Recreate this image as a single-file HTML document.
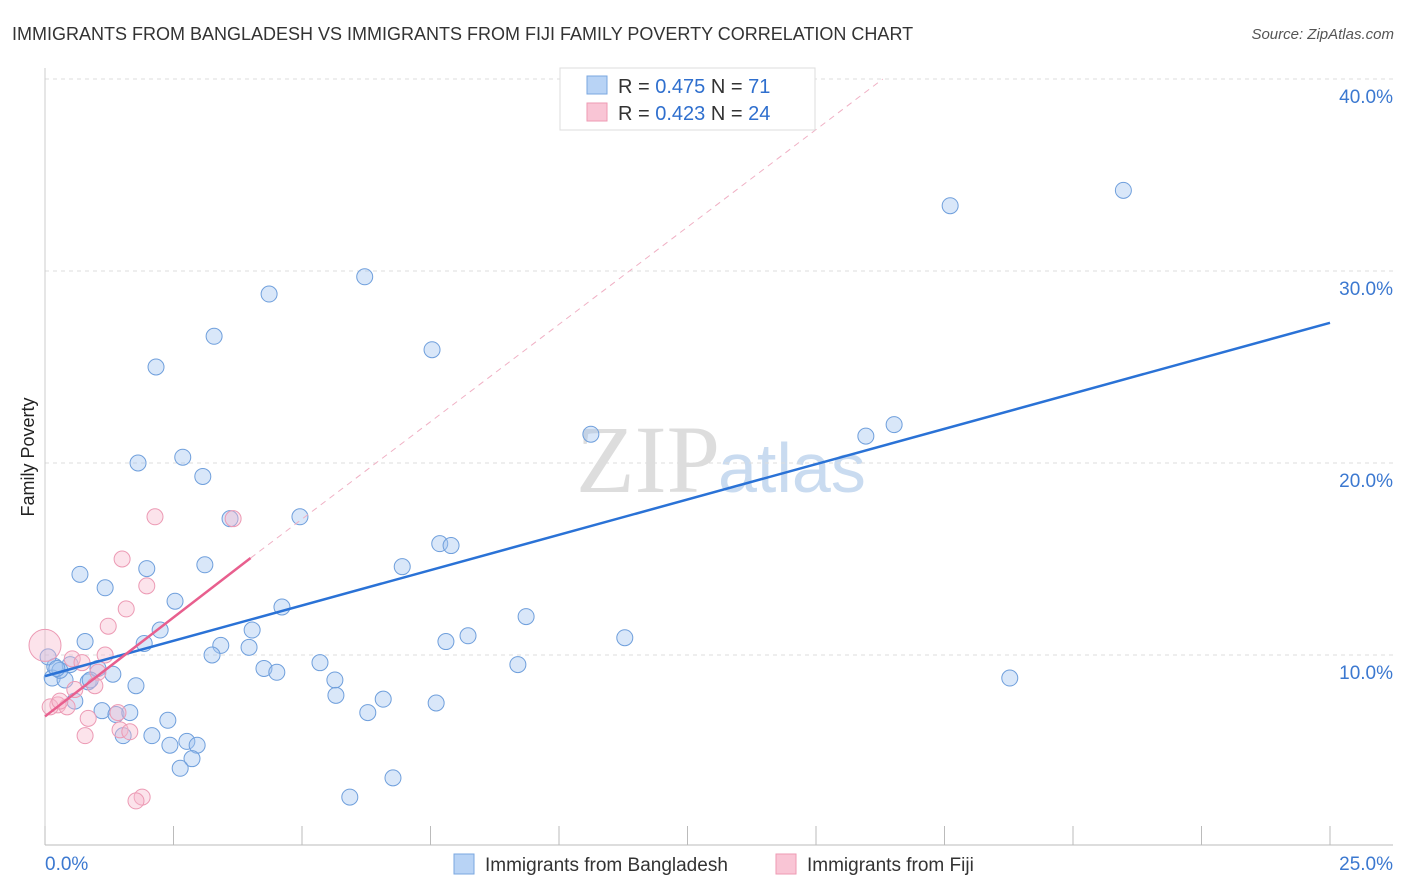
<!DOCTYPE html>
<html><head><meta charset="utf-8"><style>
body{margin:0;background:#fff;font-family:"Liberation Sans",sans-serif}
svg{display:block}
</style></head><body>
<svg width="1406" height="892" id="chart">
<text x="12" y="40" font-size="18" fill="#333">IMMIGRANTS FROM BANGLADESH VS IMMIGRANTS FROM FIJI FAMILY POVERTY CORRELATION CHART</text>
<text x="1394" y="39" font-size="15" fill="#555" text-anchor="end" font-style="italic">Source: ZipAtlas.com</text>
<text x="34" y="457" font-size="18" fill="#222" text-anchor="middle" transform="rotate(-90 34 457)">Family Poverty</text>
<text x="720" y="492" font-size="96" fill="#ddd" text-anchor="end" font-family="Liberation Serif">ZIP</text>
<text x="718" y="492" font-size="70" fill="#c9dbf0">atlas</text>
<g id="grid"></g><g id="axes"></g><g id="pts"></g><g id="lines"></g>
<g>
<rect x="560" y="68" width="255" height="62" fill="#fff" stroke="#ddd"/>
<rect x="587" y="76" width="20" height="18" fill="#b8d3f5" stroke="#7aa7e0"/>
<rect x="587" y="103" width="20" height="18" fill="#f9c5d5" stroke="#ee9ab3"/>
<text x="618" y="93" font-size="20" fill="#333">R = <tspan fill="#2f6fce">0.475</tspan>   N = <tspan fill="#2f6fce"> 71</tspan></text>
<text x="618" y="120" font-size="20" fill="#333">R = <tspan fill="#2f6fce">0.423</tspan>   N = <tspan fill="#2f6fce">24</tspan></text>
</g>
<g>
<rect x="454" y="854" width="20" height="20" fill="#b8d3f5" stroke="#7aa7e0"/>
<text x="485" y="871" font-size="19" fill="#333">Immigrants from Bangladesh</text>
<rect x="776" y="854" width="20" height="20" fill="#f9c5d5" stroke="#ee9ab3"/>
<text x="807" y="871" font-size="19" fill="#333">Immigrants from Fiji</text>
</g>
</svg>
<script>
const yTicks=[10,20,30,40];
const xTickLabels=["0.0%","25.0%"];
const blueX=[20.98,17.61,6.22,4.36,3.29,7.53,2.16,16.52,15.97,10.62,1.81,2.68,3.07,3.6,4.96,7.68,7.9,6.95,0.68,1.98,3.11,1.17,9.36,2.53,4.61,2.24,4.03,0.78,1.93,3.42,8.23,7.8,11.28,3.25,3.97,5.35,9.2,4.26,4.51,0.19,0.49,1.03,0.14,0.39,0.84,1.32,1.77,5.64,5.66,6.58,18.77,7.61,0.58,1.11,1.38,1.65,6.28,2.39,1.52,2.08,2.76,2.43,2.96,2.86,2.63,6.77,5.93,0.06,0.29,0.88,0.23];
const blueY=[34.2,33.4,29.7,28.8,26.6,25.9,25.0,22.0,21.4,21.5,20.0,20.3,19.3,17.1,17.2,15.8,15.7,14.6,14.2,14.5,14.7,13.5,12.0,12.8,12.5,11.3,11.3,10.7,10.6,10.5,11.0,10.7,10.9,10.0,10.4,9.6,9.5,9.3,9.1,9.4,9.5,9.3,8.8,8.7,8.6,9.0,8.4,8.7,7.9,7.7,8.8,7.5,7.6,7.1,6.9,7.0,7.0,6.6,5.8,5.8,5.5,5.3,5.3,4.6,4.1,3.6,2.6,9.9,9.2,8.7,9.3];
const pinkX=[0,2.14,3.66,1.5,1.98,1.58,1.23,0.53,0.72,1.17,1.03,0.97,0.25,0.43,0.1,0.84,1.42,1.46,1.65,0.78,1.89,1.77,0.29,0.58];
const pinkY=[10.5,17.2,17.1,15.0,13.6,12.4,11.5,9.8,9.6,10.0,9.1,8.4,7.4,7.3,7.3,6.7,7.0,6.1,6.0,5.8,2.6,2.4,7.6,8.2];
const pinkR=[16,8,8,8,8,8,8,8,8,8,8,8,8,8,8,8,8,8,8,8,8,8,8,8];
const blueLine=[[0,8.9],[25,27.3]];
const pinkLine=[[0,6.8],[4,15.05]];
const pinkDash=[[4,15.05],[16.3,40]];
const X=v=>45+v*51.4, Y=v=>847-v*19.2;
const NS="http://www.w3.org/2000/svg";
function mk(t,a,p){const e=document.createElementNS(NS,t);for(const k in a)e.setAttribute(k,a[k]);p.appendChild(e);return e;}
const grid=document.getElementById('grid'),axes=document.getElementById('axes'),pts=document.getElementById('pts'),lines=document.getElementById('lines');
yTicks.forEach(t=>{const l=mk('line',{x1:45,x2:1393,y1:Y(t),y2:Y(t),stroke:'#ddd','stroke-dasharray':'4,4'},grid);

const tx=mk('text',{x:1393,y:Y(t)+24,'font-size':19,fill:'#3b78d0','text-anchor':'end'},grid);tx.textContent=t.toFixed(1)+'%';
});
const ax=mk('line',{x1:45,x2:1393,y1:845,y2:845,stroke:'#bbb'},axes);

const ay=mk('line',{x1:45,x2:45,y1:68,y2:845,stroke:'#ccc'},axes);

for(let i=0;i<=10;i++){const t=mk('line',{x1:X(i*2.5),x2:X(i*2.5),y1:826,y2:845,stroke:'#bbb'},axes);
}
const xl0=mk('text',{x:45,y:870,'font-size':19,fill:'#3b78d0'},axes);xl0.textContent=xTickLabels[0];

const xl1=mk('text',{x:1393,y:870,'font-size':19,fill:'#3b78d0','text-anchor':'end'},axes);xl1.textContent=xTickLabels[1];

blueX.forEach((x,i)=>{const c=mk('circle',{cx:X(x),cy:Y(blueY[i]),r:8,fill:'rgba(160,195,240,0.4)',stroke:'#6f9fdc','stroke-width':1},pts);
});
pinkX.forEach((x,i)=>{const c=mk('circle',{cx:X(x),cy:Y(pinkY[i]),r:pinkR[i],fill:'rgba(248,185,205,0.4)',stroke:'#ec9ab4','stroke-width':1},pts);
});
const bl=mk('line',{x1:X(blueLine[0][0]),y1:Y(blueLine[0][1]),x2:X(blueLine[1][0]),y2:Y(blueLine[1][1]),stroke:'#2a72d6','stroke-width':2.5},lines);

const pl=mk('line',{x1:X(pinkLine[0][0]),y1:Y(pinkLine[0][1]),x2:X(pinkLine[1][0]),y2:Y(pinkLine[1][1]),stroke:'#e85f8e','stroke-width':2.5},lines);

const pd=mk('line',{x1:X(pinkDash[0][0]),y1:Y(pinkDash[0][1]),x2:X(pinkDash[1][0]),y2:Y(pinkDash[1][1]),stroke:'#f0b0c4','stroke-width':1,'stroke-dasharray':'6,5'},lines);

</script>
</body></html>
